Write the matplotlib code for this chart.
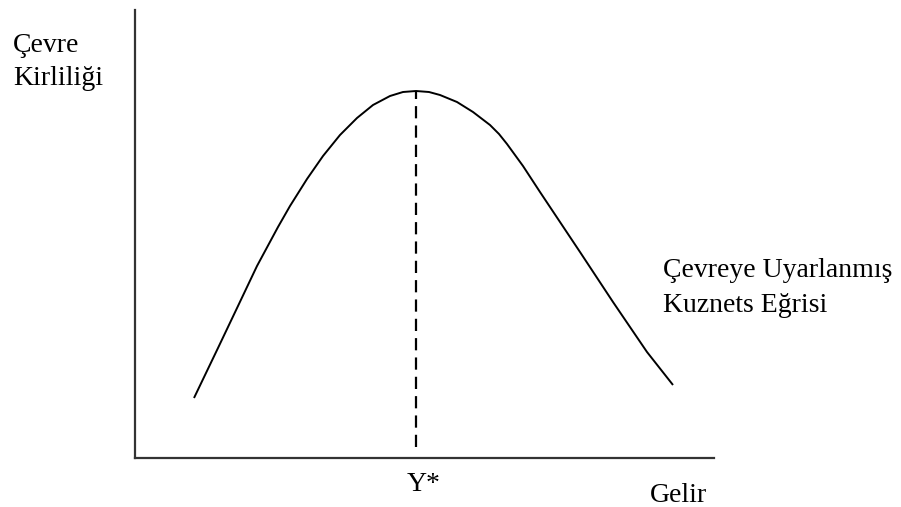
import matplotlib
matplotlib.use("Agg")
import matplotlib.pyplot as plt

# Environmental Kuznets curve (conceptual)
gelir = [59, 83, 103, 122, 143, 155, 172, 188, 205, 222, 238, 255, 268, 281,
         294, 305, 322, 338, 355, 364, 372, 380, 388, 405, 423, 445, 478, 512, 538]
kirlilik = [60, 110, 152, 192, 231, 252, 279, 302, 323, 340, 353, 362, 366, 367,
            366, 363, 356, 346, 333, 324, 314, 303, 292, 266, 239, 206, 156, 106, 73]
y_star = 281
y_star_top = 367

W, H = 901, 507
fig = plt.figure(figsize=(W / 100, H / 100), dpi=100)
fig.patch.set_facecolor("white")

ax_left, ax_bottom, ax_right, ax_top = 135, 458, 714, 10
ax = fig.add_axes([ax_left / W, 1 - ax_bottom / H, (ax_right - ax_left) / W, (ax_bottom - ax_top) / H])
ax.set_xlim(0, ax_right - ax_left)
ax.set_ylim(0, ax_bottom - ax_top)
ax.patch.set_alpha(0)
for s in ["top", "right"]:
    ax.spines[s].set_visible(False)
for s in ["left", "bottom"]:
    ax.spines[s].set_linewidth(1.6)
    ax.spines[s].set_color("#333333")
ax.set_xticks([])
ax.set_yticks([])

ax.plot(gelir, kirlilik, color="black", lw=1.4, solid_capstyle="butt", solid_joinstyle="round")
ax.plot([y_star, y_star], [11, y_star_top], color="black", lw=1.6, linestyle=(0, (5.5, 3.2)))

font = ["Liberation Serif", "DejaVu Serif"]
fs = 20
def t(x, y, s, ha="left"):
    fig.text(x / W, 1 - y / H, s, ha=ha, va="baseline", fontsize=fs, family=font, color="black")

t(13, 52, "Çevre")
t(13, 85, "Kirliliği")
t(663, 277, "Çevreye Uyarlanmış")
t(663, 312, "Kuznets Eğrisi")
t(424, 491, "Y*", ha="center")
t(650, 502, "Gelir")

fig.savefig("out.png", dpi=100, facecolor="white")
